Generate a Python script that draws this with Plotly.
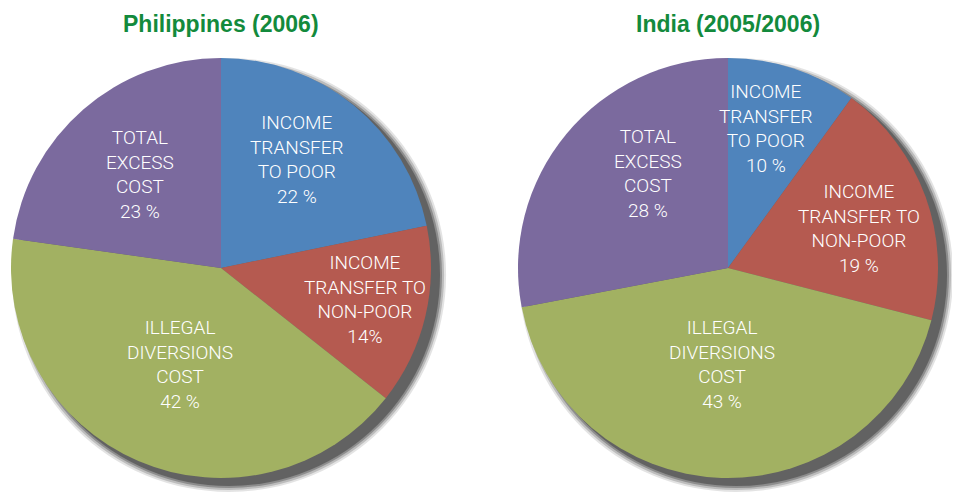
import math
import plotly.graph_objects as go

# page body has an 8px margin: figure spans screen px 8..960 x 8..492
OFF = 8
W, H = 952, 484

categories = ["Income transfer to poor", "Income transfer to non-poor",
              "Illegal diversions cost", "Total excess cost"]
ph_values = [22, 14, 42, 23]
in_values = [10, 19, 43, 28]
ph_text = ["INCOME<br>TRANSFER<br>TO POOR<br>22 %",
           "INCOME<br>TRANSFER TO<br>NON-POOR<br>14%",
           "ILLEGAL<br>DIVERSIONS<br>COST<br>42 %",
           "TOTAL<br>EXCESS<br>COST<br>23 %"]
in_text = ["INCOME<br>TRANSFER<br>TO POOR<br>10 %",
           "INCOME<br>TRANSFER TO<br>NON-POOR<br>19 %",
           "ILLEGAL<br>DIVERSIONS<br>COST<br>43 %",
           "TOTAL<br>EXCESS<br>COST<br>28 %"]
titles = ["Philippines (2006)", "India (2005/2006)"]

# --- style / layout (screen pixel coordinates) ---
colors = ["#4F84BC", "#B55A50", "#A2B162", "#7B6A9E"]
title_color = "#138A3C"
label_font = "Roboto, Liberation Sans, sans-serif"
R = 210
centers = [(221, 268), (728, 268)]
title_y = 24
# radial position of each slice label (fraction of radius)
label_r = [[0.63, 0.70, 0.50, 0.59], [0.69, 0.65, 0.46, 0.59]]
# small angular nudge of labels (degrees)
label_da = [[-4, -1, 0, 0], [-3, 3, 2, 10]]


def dom(cx, cy, r):
    cx, cy = cx - OFF, cy - OFF
    c = lambda v: min(1.0, max(0.0, v))
    return dict(x=[c((cx - r) / W), c((cx + r) / W)],
                y=[c(1 - (cy + r) / H), c(1 - (cy - r) / H)])


def ppos(x, y):
    return (x - OFF) / W, 1 - (y - OFF) / H


fig = go.Figure()

# soft drop shadow layers
shadow_layers = [(7, 0.15), (5, 0.25), (3, 0.40), (1, 0.60)]
for (cx, cy) in centers:
    for grow, a in shadow_layers:
        fig.add_trace(go.Pie(
            values=[1], labels=["shadow"], sort=False,
            marker=dict(colors=[f"rgba(70,70,70,{a})"], line=dict(width=0)),
            textinfo="none", hoverinfo="skip", showlegend=False,
            domain=dom(cx + 8, cy + 7, R + grow),
        ))

annotations = []
for k, ((cx, cy), vals, txt, ttl) in enumerate(
        zip(centers, [ph_values, in_values], [ph_text, in_text], titles)):
    fig.add_trace(go.Pie(
        values=vals, labels=categories, sort=False,
        direction="clockwise", rotation=0,
        marker=dict(colors=colors, line=dict(width=0)),
        textinfo="none",
        hoverinfo="label+value", showlegend=False,
        domain=dom(cx, cy, R),
    ))
    total = sum(vals)
    cum = 0
    for i, (v, t) in enumerate(zip(vals, txt)):
        mid = (cum + v / 2) / total * 360 + label_da[k][i]
        cum += v
        rr = label_r[k][i] * R
        ax, ay = ppos(cx + rr * math.sin(math.radians(mid)),
                      cy - rr * math.cos(math.radians(mid)))
        annotations.append(dict(
            x=ax, y=ay, xref="paper", yref="paper",
            text=t, showarrow=False, xanchor="center", yanchor="middle",
            align="center",
            font=dict(family=label_font, size=19, color="white", weight=300),
        ))
    tx, ty = ppos(cx, title_y)
    annotations.append(dict(
        x=tx, y=ty, xref="paper", yref="paper",
        text=f"<b>{ttl}</b>", showarrow=False, xanchor="center",
        yanchor="middle",
        font=dict(family="Liberation Sans, Arial, sans-serif", size=23,
                  color=title_color),
    ))

fig.update_layout(
    width=W, height=H,
    margin=dict(l=0, r=0, t=0, b=0),
    paper_bgcolor="white", plot_bgcolor="white",
    showlegend=False,
    annotations=annotations,
)

fig.write_html("out.html")
